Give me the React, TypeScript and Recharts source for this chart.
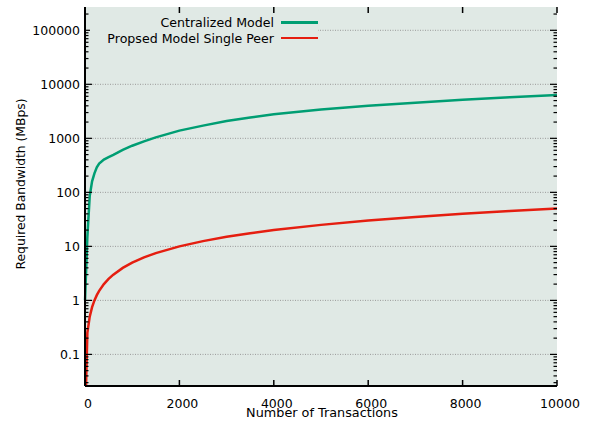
import React from "react"
import { LineChart, Line, XAxis, YAxis, ReferenceLine } from "recharts"

const TRANSACTIONS = [1, 50, 100, 150, 200, 250, 300, 400, 500, 600, 800, 1000, 1250, 1500, 2000, 2500, 3000, 3500, 4000, 5000, 6000, 7000, 8000, 9000, 10000]
const CENTRALIZED = [1, 15, 85, 160, 225, 290, 340, 405, 450, 495, 610, 730, 880, 1040, 1390, 1720, 2100, 2440, 2780, 3420, 3990, 4560, 5160, 5760, 6350]
const SINGLE_PEER = [0.005, 0.25, 0.5, 0.75, 1, 1.25, 1.5, 2, 2.5, 3, 4, 5, 6.25, 7.5, 10, 12.5, 15, 17.5, 20, 25, 30, 35, 40, 45, 50]

const X_TICKS = [0, 2000, 4000, 6000, 8000, 10000]
const Y_DECADES = [0.1, 1, 10, 100, 1000, 10000, 100000]
const Y_DOMAIN: [number, number] = [0.026, 270000]

const SERIES = [
  { key: "centralized", name: "Centralized Model", color: "#009e73" },
  { key: "singlePeer", name: "Propsed Model Single Peer", color: "#e51e10" },
]

const data = TRANSACTIONS.map((t, i) => ({
  tx: t,
  centralized: CENTRALIZED[i],
  singlePeer: SINGLE_PEER[i],
}))

// minor log ticks 2..9 per decade, kept inside the domain
const yTicks: number[] = []
for (const d of [0.01, ...Y_DECADES]) {
  for (let m = 1; m < 10; m++) {
    const v = +(d * m).toPrecision(3)
    if (v >= Y_DOMAIN[0] && v <= Y_DOMAIN[1]) yTicks.push(v)
  }
}

const W = 593
const H = 424
const LEFT = 85
const RIGHT = 557
const TOP = 7
const BOTTOM = 386
const BG = "#e0e9e5"
const FONT = "'DejaVu Sans', sans-serif"

const XTick = (props: any) => {
  const { x, payload } = props
  return (
    <g>
      <line x1={x} x2={x} y1={BOTTOM} y2={BOTTOM - 6} stroke="#000" strokeWidth={1.5} />
      <line x1={x} x2={x} y1={TOP} y2={TOP + 6} stroke="#000" strokeWidth={1.5} />
      <text x={x + 3} y={407.5} textAnchor="middle" fontSize={12.5} fontFamily={FONT} fill="#000">
        {payload.value}
      </text>
    </g>
  )
}

const YTick = (props: any) => {
  const { y, payload } = props
  const major = Y_DECADES.includes(payload.value)
  const len = major ? 7 : 3.5
  return (
    <g>
      <line x1={LEFT} x2={LEFT + len} y1={y} y2={y} stroke="#000" strokeWidth={1.2} />
      <line x1={RIGHT} x2={RIGHT - len} y1={y} y2={y} stroke="#000" strokeWidth={1.2} />
      {major && (
        <text x={80} y={y + 4.5} textAnchor="end" fontSize={12.5} fontFamily={FONT} fill="#000">
          {payload.value}
        </text>
      )}
    </g>
  )
}

export default function App() {
  return (
    <div style={{ position: "absolute", left: 0, top: 0, width: W, height: H, background: "#fff" }}>
      <div style={{ position: "absolute", left: LEFT, top: TOP, width: RIGHT - LEFT, height: BOTTOM - TOP, background: BG }} />
      <LineChart width={W} height={H} data={data} margin={{ top: TOP, right: W - RIGHT, bottom: 0, left: 0 }}>
        {Y_DECADES.map((d) => (
          <ReferenceLine key={d} y={d} stroke="#9a9a9a" strokeWidth={1} strokeDasharray="1 1.5" ifOverflow="hidden" />
        ))}
        <XAxis
          dataKey="tx"
          type="number"
          domain={[0, 10000]}
          ticks={X_TICKS}
          interval={0}
          height={H - BOTTOM}
          axisLine={{ stroke: "#000", strokeWidth: 2 }}
          tickLine={false}
          tick={<XTick />}
          label={{ value: "Number of Transactions", content: () => (
            <text x={322} y={416.5} textAnchor="middle" fontSize={12.8} fontFamily={FONT} fill="#000">
              Number of Transactions
            </text>
          ) }}
        />
        <XAxis xAxisId="top" orientation="top" dataKey="tx" type="number" domain={[0, 10000]} height={0} tick={false} tickLine={false} axisLine={{ stroke: "#000", strokeWidth: 2 }} />
        <YAxis
          scale="log"
          domain={Y_DOMAIN}
          allowDataOverflow
          ticks={yTicks}
          interval={0}
          width={LEFT}
          axisLine={{ stroke: "#000", strokeWidth: 2 }}
          tickLine={false}
          tick={<YTick />}
          label={{ value: "Required Bandwidth (MBps)", content: () => (
            <text x={25} y={184} transform="rotate(-90, 25, 184)" textAnchor="middle" fontSize={12.3} fontFamily={FONT} fill="#000">
              Required Bandwidth (MBps)
            </text>
          ) }}
        />
        <YAxis yAxisId="right" orientation="right" scale="log" domain={Y_DOMAIN} allowDataOverflow width={0} tick={false} tickLine={false} axisLine={{ stroke: "#000", strokeWidth: 2 }} />
        {SERIES.map((s) => (
          <Line
            key={s.key}
            dataKey={s.key}
            name={s.name}
            stroke={s.color}
            strokeWidth={2.5}
            dot={false}
            type="linear"
            isAnimationActive={false}
          />
        ))}
      </LineChart>
      <div
        style={{
          position: "absolute",
          left: 90,
          top: 14,
          width: 228,
          height: 33,
          background: BG,
          fontFamily: FONT,
          fontSize: 12.6,
        }}
      >
        {SERIES.map((s, i) => (
          <div
            key={s.key}
            style={{ position: "absolute", right: 0, top: i * 15.5 + 1, height: 15, display: "flex", alignItems: "center" }}
          >
            <span style={{ whiteSpace: "nowrap" }}>{s.name}</span>
            <span style={{ display: "inline-block", width: 37, height: 2.5, background: s.color, marginLeft: 7 }} />
          </div>
        ))}
      </div>
    </div>
  )
}
